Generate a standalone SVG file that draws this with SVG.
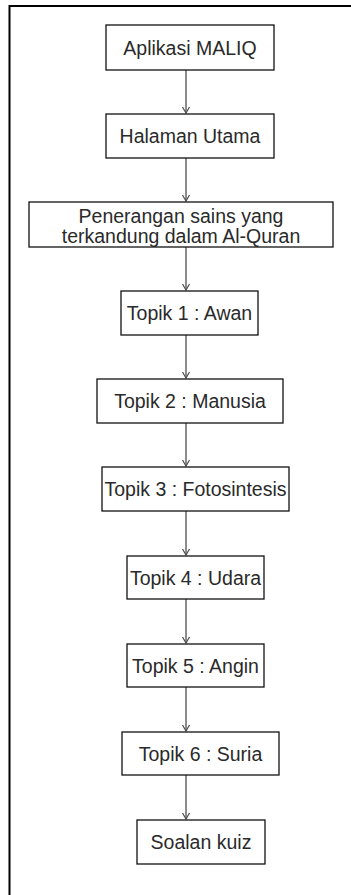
<svg xmlns="http://www.w3.org/2000/svg" width="351" height="895" viewBox="0 0 351 895">
<defs>
<marker id="arr" markerWidth="10" markerHeight="10" refX="7" refY="5" orient="auto" markerUnits="userSpaceOnUse" viewBox="0 0 10 10">
<path d="M1,1.5 L7,5 L1,8.5" fill="none" stroke="#555" stroke-width="1.3"/>
</marker>
</defs>
<style>
.box{fill:#fff;stroke:#111;stroke-width:1.3}
.t{font-family:"Liberation Sans",Arial,Helvetica,sans-serif;font-size:19.5px;fill:#2a2a2a;text-anchor:middle}
.c{stroke:#666;stroke-width:1.5;fill:none;marker-end:url(#arr)}
.frame{stroke:#000;stroke-width:2;fill:none}
</style>
<rect width="351" height="895" fill="#fff"/>
<path class="frame" d="M9.5,895 L9.5,6 L351,6"/>
<g id="connectors">
<line class="c" x1="186" y1="70" x2="186" y2="113"/>
<line class="c" x1="186" y1="158" x2="186" y2="201"/>
<line class="c" x1="186" y1="247" x2="186" y2="290"/>
<line class="c" x1="186" y1="335" x2="186" y2="378"/>
<line class="c" x1="186" y1="423" x2="186" y2="466"/>
<line class="c" x1="186" y1="511" x2="186" y2="555"/>
<line class="c" x1="186" y1="599" x2="186" y2="643"/>
<line class="c" x1="186" y1="687" x2="186" y2="731"/>
<line class="c" x1="186" y1="775" x2="186" y2="819"/>
</g>
<g id="n1"><rect class="box" x="106" y="25" width="168" height="45"/><text class="t" x="190" y="54.5">Aplikasi MALIQ</text></g>
<g id="n2"><rect class="box" x="106" y="114" width="168" height="44"/><text class="t" x="190" y="143">Halaman Utama</text></g>
<g id="n3"><rect class="box" x="29" y="202" width="304" height="45"/><text class="t" x="181" y="223">Penerangan sains yang</text><text class="t" x="181" y="243">terkandung dalam Al-Quran</text></g>
<g id="n4"><rect class="box" x="121" y="291" width="137" height="44"/><text class="t" x="189.5" y="320">Topik 1 : Awan</text></g>
<g id="n5"><rect class="box" x="97" y="379" width="186" height="44"/><text class="t" x="190" y="408">Topik 2 : Manusia</text></g>
<g id="n6"><rect class="box" x="102" y="467" width="187" height="44"/><text class="t" x="195.5" y="496">Topik 3 : Fotosintesis</text></g>
<g id="n7"><rect class="box" x="127" y="556" width="137" height="43"/><text class="t" x="195.5" y="584.5">Topik 4 : Udara</text></g>
<g id="n8"><rect class="box" x="127" y="644" width="137" height="43"/><text class="t" x="195.5" y="672.5">Topik 5 : Angin</text></g>
<g id="n9"><rect class="box" x="122" y="732" width="157" height="43"/><text class="t" x="200.5" y="760.5">Topik 6 : Suria</text></g>
<g id="n10"><rect class="box" x="137" y="820" width="128" height="44"/><text class="t" x="201" y="849">Soalan kuiz</text></g>
</svg>
